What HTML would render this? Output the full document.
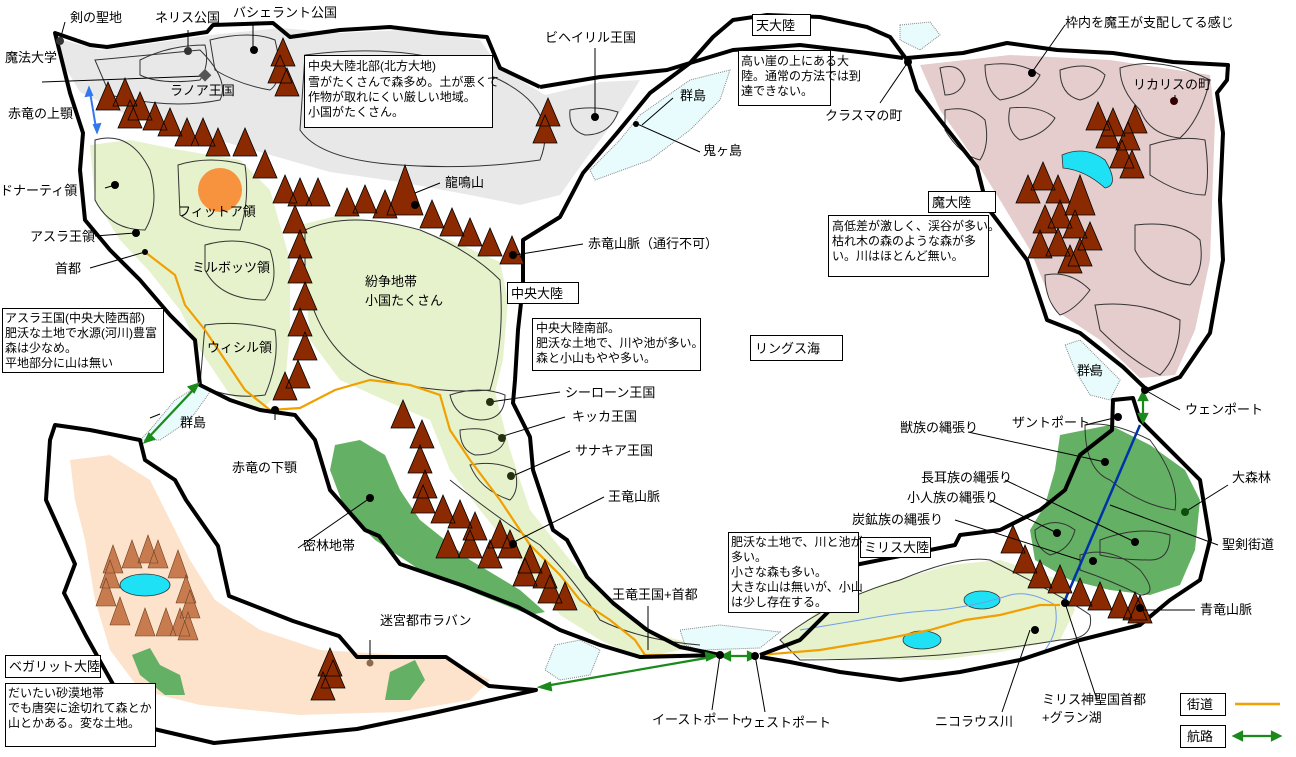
<!DOCTYPE html>
<html><head><meta charset="utf-8"><style>
html,body{margin:0;padding:0;background:#fff}
svg{display:block}
text{font-family:"Liberation Sans","Noto Sans CJK JP",sans-serif;font-size:13px;fill:#000}
.bx text{font-size:12px}
</style></head><body>
<svg width="1296" height="757" viewBox="0 0 1296 757" xmlns="http://www.w3.org/2000/svg">
<rect width="1296" height="757" fill="#fff"/>
<path d="M55,38 L100,50 140,45 210,35 280,28 340,33 400,30 480,40 500,68 545,95 600,82 640,80 615,120 585,160 560,195 520,205 470,195 400,182 330,172 260,152 190,132 120,112 80,92 62,62Z" fill="#e8e8e8"/>
<path d="M90,145 L130,140 180,150 240,160 270,190 290,260 290,330 285,385 262,410 230,395 200,350 180,310 150,272 120,240 95,200Z" fill="#e6f2cc"/>
<path d="M300,225 L340,215 400,225 450,240 500,262 508,300 503,360 495,392 510,450 530,510 570,560 610,600 650,632 700,646 640,658 600,640 560,615 520,560 480,510 450,470 430,420 380,398 340,380 310,340 305,280Z" fill="#e6f2cc"/>
<path d="M780,640 L820,610 880,585 950,565 1000,560 1060,580 1075,610 1060,640 1000,652 940,660 870,660 800,658Z" fill="#e6f2cc"/>
<path d="M70,460 L110,455 150,480 170,520 190,560 215,600 260,630 320,650 400,655 450,660 490,680 470,700 400,712 300,715 200,705 140,690 110,650 95,600 85,540 75,500Z" fill="#fde3cb"/>
<path d="M920,65 L1010,55 1110,60 1210,75 1215,120 1210,260 1195,330 1175,375 1140,378 1100,340 1055,310 1030,250 1000,200 975,160 940,110Z" fill="#e5cccd"/>
<path d="M1060,435 L1110,425 1150,445 1185,470 1200,500 1195,550 1180,585 1150,595 1110,590 1070,580 1035,560 1030,530 1045,505 1055,470Z" fill="#64b064"/>
<path d="M335,445 L360,440 385,455 400,490 420,520 470,560 520,590 545,612 530,615 480,595 420,570 375,540 345,510 330,470Z" fill="#64b064"/>
<path d="M132,655 L150,648 160,665 180,675 185,695 165,695 140,675Z" fill="#64b064"/>
<path d="M390,672 L415,660 425,680 410,700 385,700Z" fill="#64b064"/>
<g fill="#e8fbfd" stroke="#888" stroke-dasharray="1,1">
<path d="M640,115 L690,80 730,70 720,100 690,130 650,160 595,180 590,170 620,140Z"/>
<path d="M900,25 L930,22 940,35 920,50 900,40Z"/>
<path d="M1065,345 L1080,340 1100,360 1120,380 1110,400 1090,395 1075,370Z"/>
<path d="M150,430 L175,400 200,385 210,392 190,420 160,440 140,440Z"/>
<path d="M555,645 L580,640 600,650 590,675 560,680 545,670Z"/>
<path d="M680,630 L720,625 780,632 760,648 700,650 685,645Z"/>
</g>
<g fill="#1fe1f5" stroke="#333" stroke-width=".8">
<path d="M1062,155 Q1085,145 1105,160 Q1120,185 1105,188 Q1085,170 1063,168Z"/>
<ellipse cx="145" cy="585" rx="25" ry="11"/>
<ellipse cx="982" cy="600" rx="18" ry="9"/>
<ellipse cx="922" cy="640" rx="19" ry="9"/>
</g>
<circle cx="220" cy="190" r="22" fill="#f7923f"/>
<g fill="none" stroke="#333" stroke-width="1">
<path d="M95,140 Q130,130 150,170 Q160,205 145,230 Q110,230 95,200Z"/>
<path d="M178,165 Q210,155 245,165 Q250,200 240,230 Q200,230 180,215Z"/>
<path d="M205,245 Q240,235 270,250 Q280,280 265,300 Q220,300 205,270Z"/>
<path d="M205,325 Q240,320 275,330 Q280,360 265,395 Q230,400 200,385Z"/>
<path d="M305,230 Q350,210 420,230 Q470,250 500,280 Q505,340 490,390 Q430,395 370,375 Q320,350 305,280Z"/>
<path d="M95,60 Q150,55 200,50 Q230,80 220,100 Q170,110 110,95Z"/>
<path d="M140,60 Q170,45 205,45 Q210,65 200,80 Q160,85 140,75Z"/>
<path d="M210,40 Q250,30 275,40 Q285,80 270,90 Q240,85 215,70Z"/>
<path d="M305,55 Q420,40 500,80 Q560,110 540,160 Q470,170 400,165 Q320,160 300,130Z"/>
<path d="M570,110 Q595,105 618,112 Q610,135 585,135 Q568,130 570,110Z"/>
<path d="M450,395 Q480,385 505,395 Q505,420 480,420 Q455,418 450,395Z"/>
<path d="M460,430 Q490,425 505,440 Q500,455 475,455 Q460,450 460,430Z"/>
<path d="M470,465 Q495,460 515,470 Q520,490 510,500 Q480,490 470,465Z"/>
<path d="M940,68 Q960,62 965,80 Q960,95 945,95Z"/>
<path d="M985,65 Q1020,60 1040,75 Q1030,95 1000,100 Q985,90 985,65Z"/>
<path d="M1060,70 Q1090,60 1105,75 Q1100,95 1080,100 Q1060,95 1060,70Z"/>
<path d="M1120,68 Q1160,55 1210,80 Q1200,120 1180,138 Q1150,135 1140,110 Q1120,90 1120,68Z"/>
<path d="M945,110 Q970,105 985,120 Q990,145 980,160 Q960,155 945,130Z"/>
<path d="M1010,108 Q1040,105 1055,118 Q1045,135 1020,140 Q1005,130 1010,108Z"/>
<path d="M1150,145 Q1180,135 1205,140 Q1210,175 1205,195 Q1180,195 1150,175Z"/>
<path d="M1135,225 Q1180,220 1200,240 Q1205,270 1190,285 Q1150,280 1135,250Z"/>
<path d="M1045,275 Q1070,270 1090,290 Q1075,310 1060,315 Q1045,300 1045,275Z"/>
<path d="M1095,305 Q1140,300 1180,320 Q1180,355 1160,375 Q1130,360 1100,330Z"/>
<path d="M1085,425 Q1110,420 1150,440 Q1180,480 1175,510 Q1140,505 1110,480 Q1085,470 1085,425Z"/>
<path d="M1035,530 Q1055,515 1075,530 Q1070,550 1050,555 Q1035,548 1035,530Z"/>
<path d="M1100,540 Q1140,525 1170,535 Q1170,560 1150,560 Q1120,560 1100,555Z"/>
<path d="M1080,555 Q1110,545 1140,570 Q1160,595 1140,595 Q1110,580 1080,570Z"/>
<path d="M780,640 Q830,600 900,580 Q960,555 990,560 Q1070,600 1090,615 Q1095,640 1060,640 Q1000,650 940,655 Q870,660 800,660Z"/>
<path d="M450,480 Q500,520 540,545 Q575,580 600,620 Q640,640 700,645"/>
</g>
<path d="M800,630 Q830,625 860,620 Q900,612 940,610 Q980,605 1010,595 Q1030,590 1055,605 Q1060,630 1045,650" fill="none" stroke="#6f9ee8" stroke-width="1"/>
<path d="M145,252 L175,275 185,305 205,330 225,360 245,390 270,410 300,408 335,390 370,380 410,385 440,395 450,430 470,460 500,500 530,545 560,575 580,600 610,620 635,640 645,655 720,655" fill="none" stroke="#f0a000" stroke-width="2.2"/>
<path d="M760,655 L820,650 880,640 930,630 965,620 1000,615 1040,605 1060,605" fill="none" stroke="#f0a000" stroke-width="2.2"/>
<path d="M1140,425 L1065,600" stroke="#0033aa" stroke-width="2.5"/>
<g fill="none" stroke="#000" stroke-width="4" stroke-linejoin="round">
<path d="M540,87 L600,77 667,70 690,63 713,37 733,20 767,15 820,17 867,27 890,37 907,60"/>
<path d="M690,63 L733,50 800,45 867,53 903,58"/>
<path d="M540,87 L500,68 487,37 440,33 390,27 340,30 290,37 273,23 213,25 207,32 140,42 107,47 90,45 55,33 60,53 70,93 83,133 80,170 85,220 110,250 140,280 170,315 195,340 200,385 230,400 260,410 295,415 315,440 330,490 365,530 379,536 400,564 464,586 518,607 560,630 600,645 640,657 720,655"/>
<path d="M690,63 L650,93 617,133 583,173 560,217 523,240 523,285 518,330 515,380 513,403 530,437 533,470 553,530 567,540 587,577 613,603 647,630 680,647 720,655"/>
<path d="M907,58 L963,53 1007,43 1057,50 1113,53 1173,62 1228,65 1227,80 1217,93 1223,133 1220,200 1223,260 1210,333 1180,377 1147,390 1123,367 1080,333 1047,320 1027,260 987,207 977,167 940,120 917,90 907,58"/>
<path d="M55,425 L90,430 140,440 145,460 175,480 186,500 218,546 229,596 293,621 339,636 357,657 446,657 489,686 536,690 429,714 357,729 214,743 154,729 114,686 86,636 64,593 75,564 46,500 50,440Z"/>
<path d="M760,655 L800,640 830,610 855,565 900,556 955,545 960,535 1000,530 1040,510 1065,490 1080,455 1112,430 1113,400 1133,398 1140,420 1180,460 1200,480 1210,540 1200,580 1170,600 1140,625 1080,640 1020,660 960,672 900,680 840,672 790,662 760,657"/>
</g>
<path fill="#8b2a00" stroke="#000" stroke-width=".8" d="
M108,82l-12,28h24z M125,78l-12,28h24z M140,92l-12,28h24z M130,100l-12,28h24z M155,102l-12,28h24z M170,108l-12,28h24z M187,118l-12,28h24z M203,118l-12,28h24z M218,128l-12,28h24z M245,128l-12,28h24z M265,150l-12,28h24z
M283,38l-12,28h24z M280,55l-12,28h24z M287,68l-12,28h24z
M285,175l-12,28h24z M300,178l-12,28h24z M318,178l-12,28h24z M347,188l-12,28h24z M365,185l-12,28h24z M385,190l-12,28h24z M405,165l-18,50h36z M432,200l-12,28h24z M452,208l-12,28h24z M470,218l-12,28h24z M490,228l-12,28h24z M512,236l-12,28h24z
M548,98l-12,28h24z M545,115l-12,28h24z
M295,205l-12,28h24z M300,230l-12,28h24z M300,255l-12,28h24z M305,282l-12,28h24z M300,308l-12,28h24z M305,332l-12,28h24z M298,360l-12,28h24z M285,372l-12,28h24z
M403,400l-12,28h24z M422,420l-12,28h24z M420,445l-12,28h24z M425,470l-12,28h24z M423,485l-12,28h24z M443,495l-12,28h24z M460,500l-12,28h24z M475,512l-12,28h24z M500,520l-12,28h24z M490,540l-12,28h24z M510,530l-12,28h24z M530,545l-12,28h24z M525,558l-12,28h24z M545,560l-12,28h24z M550,575l-12,28h24z M565,582l-12,28h24z M448,530l-12,28h24z M470,530l-12,28h24z
M1098,102l-12,28h24z M1113,108l-12,28h24z M1135,105l-12,28h24z M1108,120l-12,28h24z M1128,122l-12,28h24z M1122,140l-12,28h24z M1132,150l-12,28h24z
M1043,162l-12,28h24z M1028,175l-12,28h24z M1058,175l-12,28h24z M1080,175l-15,40h30z M1045,205l-12,28h24z M1060,200l-12,28h24z M1075,210l-12,28h24z M1090,222l-12,28h24z M1040,230l-12,28h24z M1058,228l-12,28h24z M1080,238l-12,28h24z M1070,245l-12,28h24z
M1013,525l-12,28h24z M1025,545l-12,28h24z M1040,560l-12,28h24z M1060,565l-12,28h24z M1080,578l-12,28h24z M1100,582l-12,28h24z M1120,590l-12,28h24z M1135,592l-12,28h24z M1140,595l-12,28h24z
M330,648l-12,28h24z M333,660l-12,28h24z M323,672l-12,28h24z"/>
<path fill="#c87b4f" stroke="#6b4020" stroke-width=".6" d="
M110,560l-10,28h20z M113,545l-10,28h20z M132,540l-10,28h20z M148,535l-10,28h20z M158,540l-10,28h20z M178,550l-10,28h20z M186,575l-10,28h20z M190,590l-10,28h20z M188,612l-10,28h20z M106,578l-10,28h20z M120,597l-10,28h20z M145,608l-10,28h20z M166,608l-10,28h20z M180,608l-10,28h20z"/>
<g stroke="#1a8a1a" stroke-width="2.2" fill="#1a8a1a">
<line x1="148" y1="438" x2="195" y2="388"/><path d="M198,384l-9,3 5,5z M145,442l9,-3 -5,-5z"/>
<line x1="545" y1="686" x2="712" y2="657"/><path d="M716,656l-10,-3 1,7z M540,687l10,-4 1,7z"/>
<line x1="726" y1="656" x2="752" y2="656"/><path d="M722,656l8,-4v8z M756,656l-8,-4v8z"/>
<line x1="1143" y1="396" x2="1143" y2="418"/><path d="M1143,392l-4,8h8z M1143,422l-4,-8h8z"/>
<line x1="1238" y1="736" x2="1276" y2="736"/><path d="M1234,736l8,-4v8z M1280,736l-8,-4v8z"/>
</g>
<g stroke="#3377ee" stroke-width="2" fill="#3377ee"><line x1="90" y1="92" x2="96" y2="128"/><path d="M89,88l-3,8 6,-1z M97,132l3,-8 -6,1z"/></g>
<line x1="1235" y1="704" x2="1280" y2="704" stroke="#f0a000" stroke-width="2.5"/>
<g stroke="#000" stroke-width="1" fill="none">
<path d="M65,22L60,40 M188,30V50 M253,22V50 M42,82L205,76 M105,188L115,185 M95,236L135,233 M90,268L145,252 M150,418L160,414 M275,420V410 M298,548L370,498 M370,640L370,663 M595,48V117 M673,98L642,125 M700,152L635,123 M440,183L415,193 M583,244L515,255 M560,392L490,402 M565,417L500,437 M570,451L515,475 M604,497L512,543 M648,606V650 M712,710L720,655 M765,712L755,655 M880,103L908,62 M1065,25L1030,75 M1175,95V101 M1090,368L1092,372 M1180,410L1145,390 M1085,425L1118,417 M968,432L1105,462 M1005,480L1135,542 M990,500L1055,532 M955,520L1080,560 M1228,485L1185,512 M1218,545L1110,505 M1195,610L1140,610 M1097,700L1065,603 M1002,712L1030,630"/>
</g>
<g fill="#000">
<circle cx="60" cy="41" r="4" fill="#333"/><circle cx="188" cy="51" r="4" fill="#333"/><circle cx="254" cy="50" r="4"/>
<rect x="200" y="71" width="9" height="9" transform="rotate(45 205 76)" fill="#555"/>
<circle cx="115" cy="185" r="4"/><circle cx="136" cy="233" r="4"/><circle cx="145" cy="252" r="3"/>
<circle cx="275" cy="410" r="4"/><circle cx="370" cy="498" r="4"/><circle cx="370" cy="663" r="3.5" fill="#8a6a50"/>
<circle cx="595" cy="117" r="4"/><circle cx="636" cy="124" r="3"/><circle cx="415" cy="205" r="4"/><circle cx="513" cy="255" r="4"/>
<circle cx="490" cy="402" r="4" fill="#243010"/><circle cx="502" cy="438" r="4" fill="#243010"/><circle cx="511" cy="476" r="4" fill="#243010"/><circle cx="513" cy="544" r="4"/>
<circle cx="720" cy="655" r="4"/><circle cx="755" cy="656" r="4"/><circle cx="908" cy="62" r="4"/>
<circle cx="1032" cy="73" r="4"/><circle cx="1174" cy="101" r="4" fill="#300"/>
<circle cx="1145" cy="390" r="4"/><circle cx="1118" cy="417" r="4"/><circle cx="1105" cy="462" r="4"/>
<circle cx="1135" cy="542" r="4"/><circle cx="1057" cy="533" r="4"/><circle cx="1093" cy="561" r="4"/><circle cx="1185" cy="512" r="4" fill="#0d4d0d"/>
<circle cx="1140" cy="608" r="4"/><circle cx="1065" cy="603" r="4"/><circle cx="1035" cy="630" r="4"/>
</g>
<text x="70" y="22">剣の聖地</text><text x="155" y="22">ネリス公国</text><text x="233" y="17">バシェラント公国</text>
<text x="5" y="62">魔法大学</text><text x="170" y="95">ラノア王国</text><text x="8" y="118">赤竜の上顎</text>
<text x="0" y="195">ドナーティ領</text><text x="178" y="216">フィットア領</text><text x="30" y="241">アスラ王領</text><text x="55" y="273">首都</text>
<text x="192" y="272">ミルボッツ領</text><text x="365" y="286">紛争地帯</text><text x="365" y="305">小国たくさん</text><text x="207" y="352">ウィシル領</text>
<text x="180" y="427">群島</text><text x="232" y="472">赤竜の下顎</text><text x="303" y="550">密林地帯</text><text x="380" y="625">迷宮都市ラバン</text>
<text x="545" y="42">ビヘイリル王国</text><text x="680" y="100">群島</text><text x="703" y="155">鬼ヶ島</text><text x="445" y="187">龍鳴山</text>
<text x="588" y="248">赤竜山脈（通行不可）</text><text x="565" y="397">シーローン王国</text><text x="572" y="421">キッカ王国</text><text x="575" y="455">サナキア王国</text>
<text x="608" y="501">王竜山脈</text><text x="612" y="599">王竜王国+首都</text><text x="652" y="724">イーストポート</text><text x="740" y="727">ウェストポート</text>
<text x="825" y="120">クラスマの町</text><text x="1065" y="27">枠内を魔王が支配してる感じ</text><text x="1133" y="89">リカリスの町</text>
<text x="1077" y="375">群島</text><text x="1185" y="414">ウェンポート</text><text x="1012" y="427">ザントポート</text>
<text x="900" y="432">獣族の縄張り</text><text x="921" y="482">長耳族の縄張り</text><text x="907" y="502">小人族の縄張り</text><text x="852" y="524">炭鉱族の縄張り</text>
<text x="1232" y="482">大森林</text><text x="1222" y="549">聖剣街道</text><text x="1200" y="614">青竜山脈</text>
<text x="1042" y="704">ミリス神聖国首都</text><text x="1042" y="722">+グラン湖</text><text x="935" y="726">ニコラウス川</text>
<g fill="#fff" stroke="#000" stroke-width="1">
<rect x="304.5" y="55.5" width="188" height="72"/><rect x="738.5" y="50.5" width="92" height="55"/><rect x="752.5" y="14.5" width="58" height="21"/>
<rect x="928.5" y="191.5" width="67" height="21"/><rect x="828.5" y="215.5" width="160" height="61"/><rect x="507.5" y="282.5" width="71" height="21"/>
<rect x="532.5" y="318.5" width="168" height="52"/><rect x="750.5" y="335.5" width="92" height="25"/><rect x="2.5" y="308.5" width="161" height="64"/>
<rect x="728.5" y="532.5" width="130" height="80"/><rect x="860.5" y="537.5" width="70" height="20"/><rect x="5.5" y="655.5" width="95" height="22"/>
<rect x="5.5" y="683.5" width="150" height="63"/><rect x="1180.5" y="693.5" width="45" height="22"/><rect x="1180.5" y="725.5" width="45" height="22"/>
</g>
<g class="bx">
<text x="308" y="70">中央大陸北部(北方大地)</text><text x="308" y="86">雪がたくさんで森多め。土が悪くて</text><text x="308" y="101">作物が取れにくい厳しい地域。</text><text x="308" y="116">小国がたくさん。</text>
<text x="741" y="65">高い崖の上にある大</text><text x="741" y="80">陸。通常の方法では到</text><text x="741" y="95">達できない。</text>
<text x="832" y="230">高低差が激しく、渓谷が多い。</text><text x="832" y="245">枯れ木の森のような森が多</text><text x="832" y="260">い。川はほとんど無い。</text>
<text x="536" y="332">中央大陸南部。</text><text x="536" y="347">肥沃な土地で、川や池が多い。</text><text x="536" y="362">森と小山もやや多い。</text>
<text x="5" y="322">アスラ王国(中央大陸西部)</text><text x="5" y="337">肥沃な土地で水源(河川)豊富</text><text x="5" y="352">森は少なめ。</text><text x="5" y="367">平地部分に山は無い</text>
<text x="731" y="546">肥沃な土地で、川と池が</text><text x="731" y="561">多い。</text><text x="731" y="576">小さな森も多い。</text><text x="731" y="591">大きな山は無いが、小山</text><text x="731" y="606">は少し存在する。</text>
<text x="8" y="697">だいたい砂漠地帯</text><text x="8" y="712">でも唐突に途切れて森とか</text><text x="8" y="727">山とかある。変な土地。</text>
</g>
<text x="756" y="30">天大陸</text><text x="932" y="207">魔大陸</text><text x="511" y="298">中央大陸</text><text x="755" y="353">リングス海</text>
<text x="864" y="552">ミリス大陸</text><text x="9" y="671">ベガリット大陸</text><text x="1187" y="709">街道</text><text x="1187" y="741">航路</text>
</svg>
</body></html>
